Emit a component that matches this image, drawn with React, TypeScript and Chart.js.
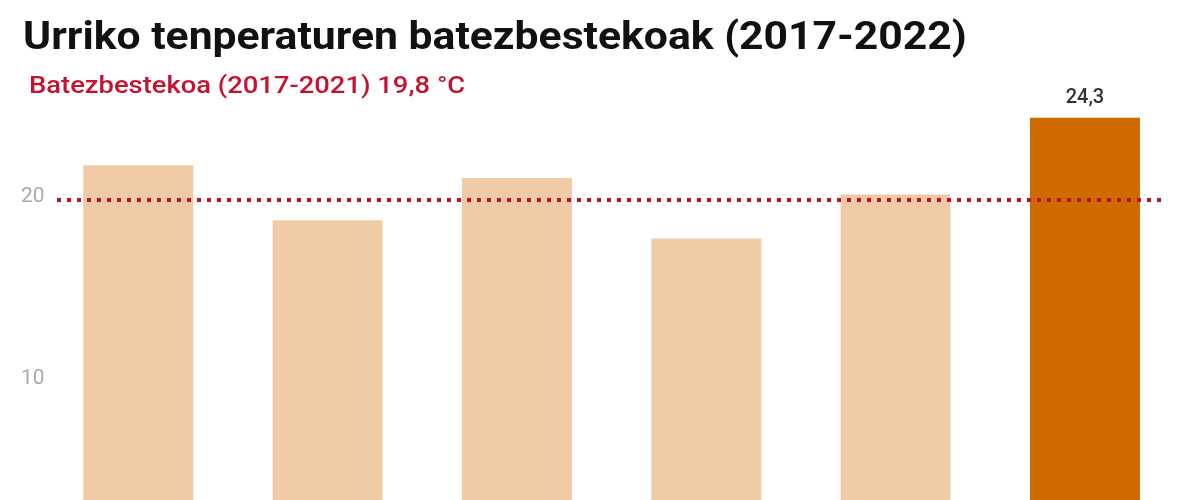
import React, { useEffect, useRef } from 'react';
import { Chart, registerables } from 'chart.js';

Chart.register(...registerables);

const TITLE = 'Urriko tenperaturen batezbestekoak (2017-2022)';
const SUBTITLE = 'Batezbestekoa (2017-2021) 19,8 °C';

const YEARS = ['2017', '2018', '2019', '2020', '2021', '2022'];
const TEMPS = [21.7, 18.7, 21.0, 17.7, 20.1, 24.3];
const AVERAGE = 19.8;
const Y_MIN = 0;
const Y_MAX = 25;
const Y_STEP = 10;

const fmt = (v: number) => v.toFixed(1).replace('.', ',');

const overlayPlugin = {
  id: 'overlay',
  afterDatasetsDraw(chart: any) {
    const ctx = chart.ctx as CanvasRenderingContext2D;
    const yScale = chart.scales.y;
    const y = yScale.getPixelForValue(AVERAGE);
    ctx.save();
    ctx.strokeStyle = '#b3162c';
    ctx.lineWidth = 4;
    ctx.lineCap = 'butt';
    ctx.setLineDash([4, 6]);
    ctx.beginPath();
    ctx.moveTo(57, y);
    ctx.lineTo(1166, y);
    ctx.stroke();

    const meta = chart.getDatasetMeta(0);
    const i = TEMPS.length - 1;
    const bar = meta.data[i];
    ctx.setLineDash([]);
    ctx.fillStyle = '#333333';
    ctx.font = '500 20px Roboto';
    ctx.textAlign = 'center';
    ctx.textBaseline = 'alphabetic';
    ctx.fillText(fmt(TEMPS[i]), bar.x, bar.y - 15);
    ctx.restore();
  },
};

export default function App() {
  const canvasRef = useRef<HTMLCanvasElement | null>(null);

  useEffect(() => {
    if (!canvasRef.current) return;
    const last = TEMPS.length - 1;
    const chart = new Chart(canvasRef.current, {
      type: 'bar',
      data: {
        labels: YEARS,
        datasets: [
          {
            label: 'Tenperatura',
            data: TEMPS,
            backgroundColor: TEMPS.map((_, i) => (i === last ? '#cf6a00' : '#f0cba6')),
            borderWidth: 0,
            categoryPercentage: 1,
            barPercentage: 0.581,
          },
        ],
      },
      options: {
        responsive: false,
        animation: false,
        devicePixelRatio: 1,
        layout: { padding: { left: 21, right: 20.4, top: 105, bottom: 0 } },
        plugins: {
          legend: { display: false },
          tooltip: { enabled: false },
          title: { display: false },
        },
        scales: {
          x: {
            grid: { display: false },
            border: { display: false },
            ticks: { color: '#aaaaaa', font: { family: 'Roboto', size: 20 } },
            afterFit: (scale: any) => {
              scale.height = 40;
            },
          },
          y: {
            min: Y_MIN,
            max: Y_MAX,
            grid: { display: false, drawTicks: false },
            border: { display: false },
            ticks: {
              stepSize: Y_STEP,
              crossAlign: 'far',
              color: '#aaaaaa',
              font: { family: 'Roboto', size: 21 },
              callback: (v: any) => (Number(v) % Y_STEP === 0 ? String(v) : ''),
            },
            afterFit: (scale: any) => {
              scale.width = 22.6;
            },
          },
        },
      },
      plugins: [overlayPlugin],
    });
    return () => chart.destroy();
  }, []);

  return (
    <div
      style={{
        position: 'absolute',
        left: 0,
        top: 0,
        width: 1200,
        height: 500,
        overflow: 'hidden',
        background: '#ffffff',
      }}
    >
      <canvas
        ref={canvasRef}
        width={1200}
        height={602}
        style={{ position: 'absolute', left: 0, top: 0, display: 'block' }}
      />
      <div
        style={{
          position: 'absolute',
          left: 23,
          top: 14,
          fontFamily: 'Roboto',
          fontWeight: 700,
          fontSize: 38,
          lineHeight: 'normal',
          color: '#111111',
          whiteSpace: 'nowrap',
          transform: 'scaleX(1.123)',
          transformOrigin: 'left top',
        }}
      >
        {TITLE}
      </div>
      <div
        style={{
          position: 'absolute',
          left: 29,
          top: 71,
          fontFamily: 'Roboto',
          fontWeight: 500,
          fontSize: 24,
          lineHeight: 'normal',
          color: '#c41230',
          whiteSpace: 'nowrap',
          transform: 'scaleX(1.14)',
          transformOrigin: 'left top',
        }}
      >
        {SUBTITLE}
      </div>
    </div>
  );
}
